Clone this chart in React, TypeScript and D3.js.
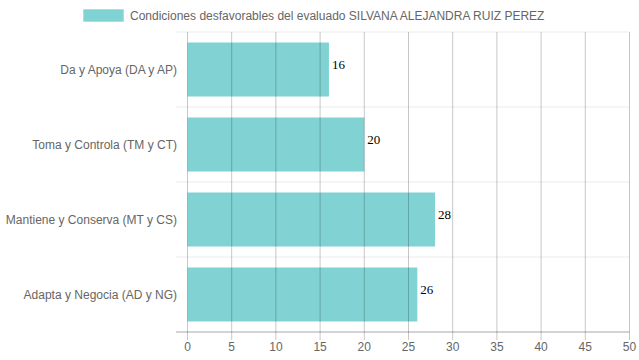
import React from "react";
import * as d3 from "d3";

const categories = [
  "Da y Apoya (DA y AP)",
  "Toma y Controla (TM y CT)",
  "Mantiene y Conserva (MT y CS)",
  "Adapta y Negocia (AD y NG)",
];
const values = [16, 20, 28, 26];
const xTicks = [0, 5, 10, 15, 20, 25, 30, 35, 40, 45, 50];
const legendLabel = "Condiciones desfavorables del evaluado SILVANA ALEJANDRA RUIZ PEREZ";

const W = 639;
const H = 360;
const left = 187.5;
const right = 629.5;
const top = 32;
const bottom = 332;
const sans = "'Liberation Sans', Arial, Helvetica, sans-serif";
const serif = "'Liberation Serif', 'Times New Roman', serif";
const barFill = "rgba(75,192,192,0.7)";

export default function App() {
  const x = d3.scaleLinear().domain([0, 50]).range([left, right]);
  const y = d3.scaleBand<string>().domain(categories).range([top, bottom]);
  const bandW = y.bandwidth();
  const barH = bandW * 0.72;
  const boundaries = [top, ...categories.map((c) => (y(c) as number) + bandW)];

  return (
    <svg width={W} height={H} style={{ position: "absolute", left: 0, top: 0 }}>
      <rect width={W} height={H} fill="#fff" />
      {/* legend */}
      <rect x={83.5} y={9.5} width={40} height={12} fill={barFill} stroke="rgba(75,192,192,0.2)" />
      <text x={130} y={15.5} dominantBaseline="central" fontFamily={sans} fontSize={12} fill="#666">
        {legendLabel}
      </text>
      {/* horizontal grid lines */}
      {boundaries.map((b, i) => (
        <line
          key={"h" + i}
          x1={176}
          x2={right}
          y1={b}
          y2={b}
          stroke={i === boundaries.length - 1 ? "rgba(0,0,0,0.35)" : "rgba(0,0,0,0.08)"}
          strokeWidth={1}
        />
      ))}
      {/* bars */}
      {categories.map((c, i) => (
        <rect
          key={"b" + i}
          x={x(0)}
          y={(y(c) as number) + (bandW - barH) / 2}
          width={x(values[i]) - x(0)}
          height={barH}
          fill={barFill}
        />
      ))}
      {/* vertical grid lines */}
      {xTicks.map((t) => (
        <line
          key={"v" + t}
          x1={x(t)}
          x2={x(t)}
          y1={top}
          y2={bottom + 8}
          stroke="rgba(0,0,0,0.22)"
          strokeWidth={1}
        />
      ))}
      {/* x tick labels */}
      {xTicks.map((t) => (
        <text
          key={"xt" + t}
          x={x(t)}
          y={347}
          textAnchor="middle"
          dominantBaseline="central"
          fontFamily={sans}
          fontSize={12}
          fill="#666"
        >
          {t}
        </text>
      ))}
      {/* y labels */}
      {categories.map((c) => (
        <text
          key={"yl" + c}
          x={177}
          y={(y(c) as number) + bandW / 2}
          textAnchor="end"
          dominantBaseline="central"
          fontFamily={sans}
          fontSize={12}
          fill="#666"
        >
          {c}
        </text>
      ))}
      {/* value labels */}
      {categories.map((c, i) => (
        <text
          key={"vl" + i}
          x={x(values[i]) + 3}
          y={(y(c) as number) + bandW / 2 - 1}
          fontFamily={serif}
          fontSize={13}
          fill="#000"
        >
          {values[i]}
        </text>
      ))}
    </svg>
  );
}
